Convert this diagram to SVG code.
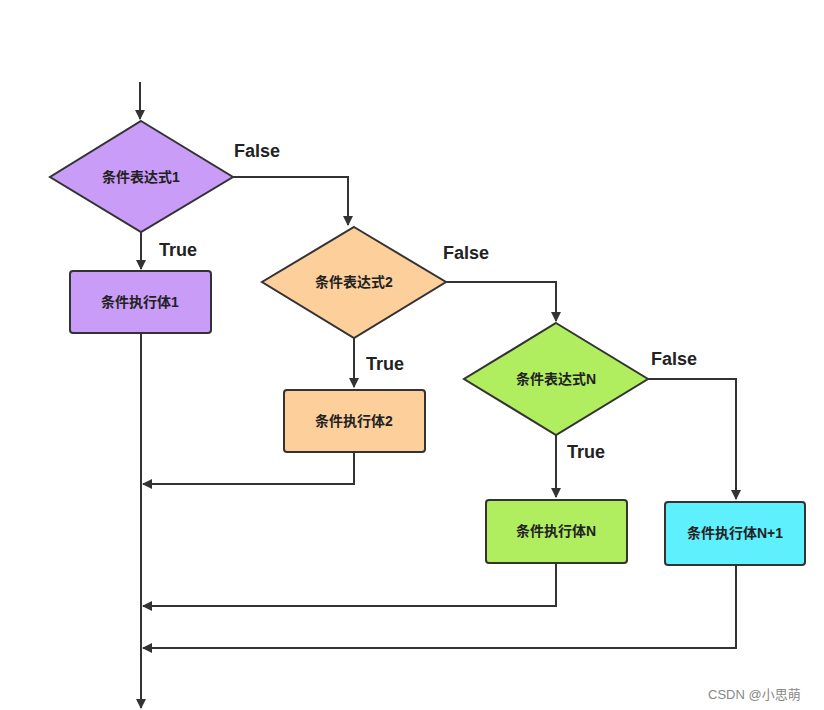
<svg xmlns="http://www.w3.org/2000/svg" width="824" height="710" viewBox="0 0 824 710">
<style>
.n{stroke:#333;stroke-width:2}
.t{font-family:"Liberation Sans","Noto Sans CJK SC",sans-serif;font-size:14px;font-weight:bold;fill:#222;text-anchor:middle;dominant-baseline:central}
.l{font-family:"Liberation Sans","Noto Sans CJK SC",sans-serif;font-size:18px;font-weight:bold;fill:#222}
.c{fill:none;stroke:#333;stroke-width:2}
</style>
<defs><marker id="a" viewBox="0 0 10 10" refX="9" refY="5" markerWidth="5" markerHeight="5" orient="auto"><path d="M0,0L10,5L0,10z" fill="#333"/></marker></defs>
<rect width="824" height="710" fill="#fff"/>
<g id="connectors">
<path class="c" d="M140,82V119" marker-end="url(#a)"/>
<path class="c" d="M141,232V269" marker-end="url(#a)"/>
<path class="c" d="M141,333V708" marker-end="url(#a)"/>
<path class="c" d="M233,177H348V225" marker-end="url(#a)"/>
<path class="c" d="M354,338V387" marker-end="url(#a)"/>
<path class="c" d="M354,452V484H143" marker-end="url(#a)"/>
<path class="c" d="M446,282H556V321" marker-end="url(#a)"/>
<path class="c" d="M556,435V497" marker-end="url(#a)"/>
<path class="c" d="M556,563V606H143" marker-end="url(#a)"/>
<path class="c" d="M648,379H736V499" marker-end="url(#a)"/>
<path class="c" d="M736,565V648H143" marker-end="url(#a)"/>
<text class="l" x="234" y="157">False</text>
<text class="l" x="159" y="256">True</text>
<text class="l" x="443" y="259">False</text>
<text class="l" x="366" y="370">True</text>
<text class="l" x="651" y="365">False</text>
<text class="l" x="567" y="458">True</text>
</g>
<g id="d1"><path class="n" fill="#c99cf7" d="M141,121L233,177L141,232L50,177z"/><text class="t" x="141" y="177">条件表达式1</text></g>
<g id="b1"><rect class="n" fill="#c99cf7" x="70" y="271" width="141" height="62" rx="3"/><text class="t" x="140" y="302">条件执行体1</text></g>
<g id="d2"><path class="n" fill="#fdcf9b" d="M354,227L446,282L354,338L262,282z"/><text class="t" x="354" y="282">条件表达式2</text></g>
<g id="b2"><rect class="n" fill="#fdcf9b" x="284" y="390" width="141" height="62" rx="3"/><text class="t" x="354" y="421">条件执行体2</text></g>
<g id="dN"><path class="n" fill="#b1ee5f" d="M556,323L648,379L556,435L464,379z"/><text class="t" x="556" y="379">条件表达式N</text></g>
<g id="bN"><rect class="n" fill="#b1ee5f" x="486" y="500" width="141" height="63" rx="3"/><text class="t" x="556" y="531">条件执行体N</text></g>
<g id="bN1"><rect class="n" fill="#5ff0fd" x="665" y="502" width="140" height="63" rx="3"/><text class="t" x="735" y="533">条件执行体N+1</text></g>
<text x="708" y="699" font-family="Liberation Sans,Noto Sans CJK SC,sans-serif" font-size="13" fill="#888">CSDN @小思萌</text>
</svg>
